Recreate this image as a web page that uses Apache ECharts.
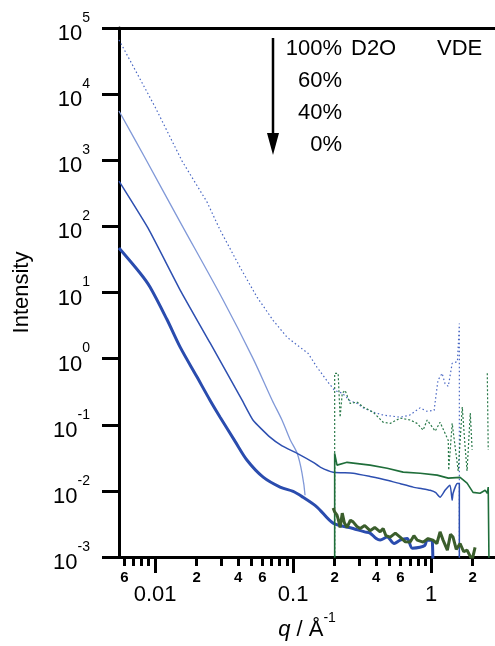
<!DOCTYPE html>
<html>
<head>
<meta charset="utf-8">
<script src="https://cdn.jsdelivr.net/npm/echarts@6/dist/echarts.min.js"></script>
<style>
html, body { margin: 0; padding: 0; background: #fff; }
#chart { width: 495px; height: 646px; }
</style>
</head>
<body>
<div id="chart"></div>
<script>
// axis ticks
const xMajor = [0.01, 0.1, 1]
const xMinor = [0.006, 0.007, 0.008, 0.009, 0.02, 0.03, 0.04, 0.05, 0.06, 0.07, 0.08, 0.09,
  0.2, 0.3, 0.4, 0.5, 0.6, 0.7, 0.8, 0.9, 2]
const xMinorLabeled = [0.006, 0.02, 0.04, 0.06, 0.2, 0.4, 0.6, 2]
const yTicks = [0.001, 0.01, 0.1, 1, 10, 100, 1000, 10000, 100000]

// SANS, 100% D2O (dotted)
const q100 = [0.00548, 0.01, 0.0157, 0.0238, 0.0296, 0.0413, 0.0548, 0.0716, 0.0905, 0.112, 0.128,
  0.149, 0.179, 0.2, 0.227, 0.259, 0.291, 0.322, 0.38, 0.45, 0.52, 0.6, 0.7, 0.83, 0.93, 1.05,
  1.12, 1.2, 1.26, 1.33, 1.42, 1.55, 1.6, 1.6]
const i100 = [66000, 6400, 970, 233, 88, 24, 8.5, 3.8, 2.1, 1.49, 1.21,
  0.74, 0.44, 0.33, 0.3, 0.23, 0.21, 0.18, 0.155, 0.14, 0.135, 0.13, 0.14, 0.18, 0.16, 0.165,
  0.47, 0.6, 0.42, 0.38, 0.85, 0.9, 3.4, 0.0005]

// 60% D2O
const q60 = [0.00548, 0.00847, 0.0152, 0.0311, 0.0513, 0.0705, 0.0832, 0.095, 0.107, 0.116, 0.122]
const i60 = [5550, 1080, 116, 7.7, 1.0, 0.235, 0.117, 0.06, 0.037, 0.0186, 0.0086]

// 40% D2O
const q40 = [0.00548, 0.0089, 0.0152, 0.0251, 0.0427, 0.0513, 0.068, 0.0832, 0.107, 0.14, 0.157,
  0.195, 0.272, 0.361, 0.48, 0.6, 0.741, 0.86, 0.984, 1.08, 1.16, 1.26, 1.37, 1.42, 1.44, 1.54, 1.6, 1.6]
const i40 = [484, 94, 10.9, 1.71, 0.235, 0.117, 0.065, 0.048, 0.037, 0.027, 0.0229,
  0.0192, 0.0185, 0.0165, 0.0145, 0.0128, 0.0114, 0.0108, 0.0102, 0.0094, 0.008, 0.0102, 0.0122, 0.0072, 0.0091, 0.0129, 0.0129, 0.0005]

// 0% D2O
const q0 = [0.00548, 0.00778, 0.00919, 0.0122, 0.0152, 0.02, 0.025, 0.0296, 0.038, 0.0464, 0.0607,
  0.0805, 0.1, 0.118, 0.149, 0.195, 0.272, 0.33, 0.361, 0.4, 0.427, 0.48, 0.54, 0.596, 0.67, 0.73,
  0.83, 0.9, 0.935, 1.02, 1.03]
const i0 = [47, 19.7, 12.1, 3.9, 1.49, 0.54, 0.235, 0.13, 0.056, 0.029, 0.0161,
  0.0114, 0.0098, 0.008, 0.0057, 0.00325, 0.0027, 0.0024, 0.0023, 0.0019, 0.0018, 0.002, 0.0016, 0.0018, 0.0019, 0.00136,
  0.0014, 0.0015, 0.0018, 0.0017, 0.0005]

// VDE, dotted
const qVdeDot = [0.2, 0.2, 0.212, 0.219, 0.227, 0.238, 0.259, 0.291, 0.322, 0.38, 0.449, 0.505, 0.596,
  0.704, 0.79, 0.875, 0.935, 1.07, 1.16, 1.33, 1.34, 1.42, 1.49, 1.57, 1.68, 1.76, 1.82, 1.92, 1.98,
  2.2, 2.55, 2.59]
const iVdeDot = [0.0005, 0.6, 0.6, 0.13, 0.3, 0.33, 0.21, 0.22, 0.185, 0.155, 0.109, 0.105, 0.126,
  0.118, 0.105, 0.083, 0.118, 0.08, 0.109, 0.058, 0.0206, 0.105, 0.047, 0.02, 0.185, 0.047, 0.02, 0.15, 0.042,
  null, 0.6, 0.042]

// VDE, upper solid
const qVdeA = [0.2, 0.2, 0.208, 0.246, 0.361, 0.48, 0.627, 0.832, 1.105, 1.33, 1.62, 1.82, 2.01,
  2.26, 2.46, 2.55, 2.59, 2.63]
const iVdeA = [0.0005, 0.037, 0.0245, 0.027, 0.0245, 0.022, 0.0192, 0.0185, 0.0173, 0.0156, 0.016, 0.0131, 0.0095,
  0.0092, 0.0102, 0.0092, 0.0114, 0.0005]

// VDE, lower thick
const qVdeB = [0.195, 0.2, 0.208, 0.213, 0.219, 0.227, 0.235, 0.246, 0.26, 0.272, 0.29, 0.306, 0.33, 0.361,
  0.39, 0.427, 0.449, 0.47, 0.505, 0.55, 0.596, 0.65, 0.704, 0.75, 0.792, 0.875, 0.95, 1.03, 1.1, 1.16,
  1.22, 1.31, 1.38, 1.44, 1.52, 1.62, 1.72, 1.82, 1.98, 2.08]
const iVdeB = [0.0055, 0.0048, 0.0043, 0.0036, 0.0028, 0.0046, 0.0033, 0.0028, 0.0036, 0.0034, 0.0029, 0.0027, 0.003, 0.0025,
  0.0028, 0.0024, 0.0027, 0.0021, 0.002, 0.0023, 0.002, 0.0017, 0.00168, 0.0021, 0.0018, 0.00168, 0.0019, 0.0018, 0.0016, 0.0024,
  0.0018, 0.00127, 0.0022, 0.002, 0.0013, 0.0016, 0.0012, 0.00127, 0.0009, 0.0014]

const pairs = (qs, is) => qs.map((q, i) => [q, is[i] == null ? '-' : is[i]])

const font = 'Liberation Sans, Arial, sans-serif'
const xMin = 0.00548
const xMax = 2.9

function line(data, color, width, type, smooth) {
  return {
    type: 'line',
    data,
    symbol: 'none',
    smooth: smooth || false,
    xAxisIndex: 0,
    yAxisIndex: 0,
    lineStyle: { color, width, type: type || 'solid' },
    emphasis: { disabled: true }
  }
}

const chart = echarts.init(document.getElementById('chart'))

chart.setOption({
  animation: false,
  textStyle: { fontFamily: font, color: '#000' },
  grid: { left: 119, right: 0, top: 28, bottom: 89, containLabel: false },
  xAxis: [
    {
      type: 'log', logBase: 10, min: xMin, max: xMax, position: 'bottom',
      name: '{q|q}{t| / Å}{s|-1}',
      nameLocation: 'middle',
      nameGap: 53,
      nameTextStyle: {
        rich: {
          q: { fontSize: 22, fontStyle: 'italic', fontFamily: font, padding: [8, 0, 0, 0] },
          t: { fontSize: 22, fontFamily: font, padding: [8, 0, 0, 0] },
          s: { fontSize: 14, fontFamily: font, verticalAlign: 'top' }
        }
      },
      axisLine: { lineStyle: { color: '#000', width: 3 } },
      axisTick: { customValues: xMajor, length: 16, lineStyle: { width: 3, color: '#000' } },
      axisLabel: {
        customValues: xMajor, margin: 27, fontSize: 22, color: '#000',
        formatter: (v) => {
          const e = Math.round(Math.log10(v))
          return e >= 0 ? '1' : '0.' + '0'.repeat(-e - 1) + '1'
        }
      },
      splitLine: { show: false }
    },
    {
      type: 'log', logBase: 10, min: xMin, max: xMax, position: 'bottom',
      axisLine: { show: false },
      axisTick: { customValues: xMinor, length: 9, lineStyle: { width: 3, color: '#000' } },
      axisLabel: {
        customValues: xMinorLabeled, margin: 13, fontSize: 15, fontWeight: 'bold', color: '#000',
        formatter: (v) => String(Math.round(v / Math.pow(10, Math.floor(Math.log10(v) + 1e-9))))
      },
      splitLine: { show: false }
    },
    {
      type: 'log', logBase: 10, min: xMin, max: xMax, position: 'top',
      axisLine: { lineStyle: { color: '#000', width: 3 } },
      axisTick: { show: false },
      axisLabel: { show: false },
      splitLine: { show: false }
    }
  ],
  yAxis: {
    type: 'log', logBase: 10, min: 0.001, max: 100000,
    name: 'Intensity',
    nameLocation: 'middle',
    nameGap: 86,
    nameTextStyle: { fontSize: 22, color: '#000', fontFamily: font },
    axisLine: { lineStyle: { color: '#000', width: 3 } },
    axisTick: { customValues: yTicks, length: 17, lineStyle: { width: 3, color: '#000' } },
    axisLabel: {
      customValues: yTicks, margin: 29, color: '#000',
      formatter: (v) => '{b|10}{s|' + Math.round(Math.log10(v)) + '}',
      rich: {
        b: { fontSize: 22, fontFamily: font, padding: [12, 0, 0, 0] },
        s: { fontSize: 14, fontFamily: font, verticalAlign: 'top' }
      }
    },
    splitLine: { show: false }
  },
  series: [
    line(pairs(q100, i100), '#4a68c4', 1.2, [1.5, 2.5]),
    line(pairs(q60, i60), '#8199d8', 1.3, null, 0.3),
    line(pairs(q40, i40), '#2d4fb0', 1.5, null, 0.15),
    line(pairs(q0, i0), '#2a4cae', 3, null, 0.3),
    line(pairs(qVdeDot, iVdeDot), '#2a7a4a', 1.2, [2, 2]),
    line(pairs(qVdeA, iVdeA), '#1f6e3a', 1.6),
    line(pairs(qVdeB, iVdeB), '#3b5e2c', 3)
  ],
  graphic: [
    { type: 'line', shape: { x1: 273, y1: 38, x2: 273, y2: 140 }, style: { stroke: '#000', lineWidth: 2.5 } },
    { type: 'polygon', shape: { points: [[267, 133], [279, 133], [273, 155]] }, style: { fill: '#000' } },
    { type: 'text', x: 342, y: 49, style: { text: '100%', font: '22px ' + font, fill: '#000', align: 'right', verticalAlign: 'middle' } },
    { type: 'text', x: 351, y: 49, style: { text: 'D2O', font: '22px ' + font, fill: '#000', align: 'left', verticalAlign: 'middle' } },
    { type: 'text', x: 437, y: 49, style: { text: 'VDE', font: '22px ' + font, fill: '#000', align: 'left', verticalAlign: 'middle' } },
    { type: 'text', x: 342, y: 81, style: { text: '60%', font: '22px ' + font, fill: '#000', align: 'right', verticalAlign: 'middle' } },
    { type: 'text', x: 342, y: 113, style: { text: '40%', font: '22px ' + font, fill: '#000', align: 'right', verticalAlign: 'middle' } },
    { type: 'text', x: 342, y: 145, style: { text: '0%', font: '22px ' + font, fill: '#000', align: 'right', verticalAlign: 'middle' } }
  ]
})
</script>
</body>
</html>
